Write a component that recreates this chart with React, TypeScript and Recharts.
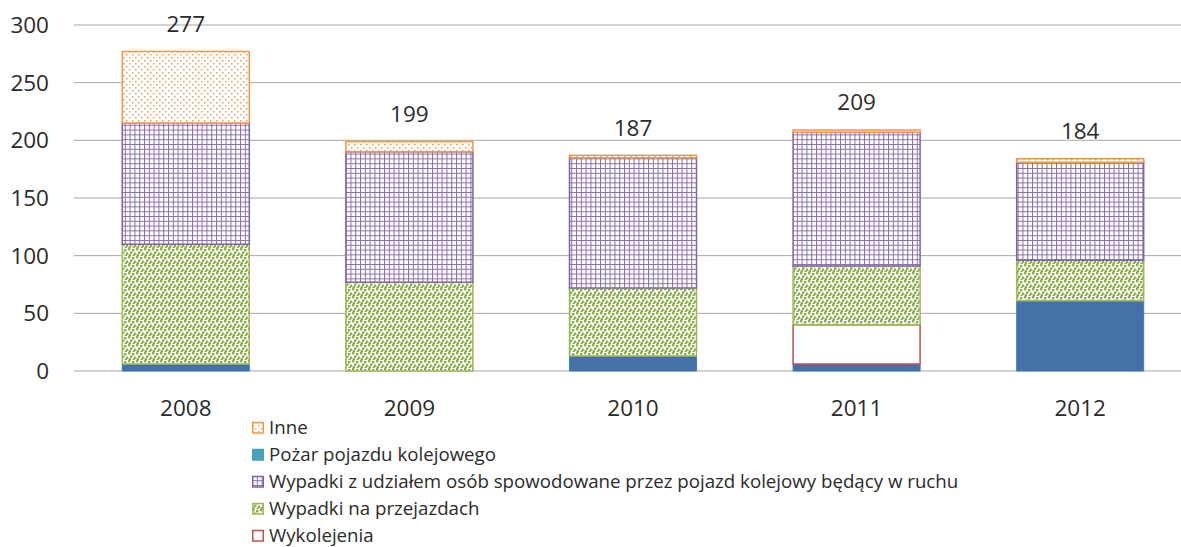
import React from 'react';
import { BarChart, Bar, XAxis, YAxis, CartesianGrid, LabelList, Legend } from 'recharts';

const categories = ['2008', '2009', '2010', '2011', '2012'];
const kolizje = [6, 0, 13, 6, 61];
const wykolejenia = [0, 0, 0, 34, 0];
const przejazdy = [104, 77, 59, 51, 35];
const udzial = [105, 113, 113, 116, 85];
const pozar = [0, 0, 0, 0, 0];
const inne = [62, 9, 2, 2, 3];
const totals = [277, 199, 187, 209, 184];
const yTicks = [0, 50, 100, 150, 200, 250, 300];

const legendNames = [
  'Inne',
  'Pożar pojazdu kolejowego',
  'Wypadki z udziałem osób spowodowane przez pojazd kolejowy będący w ruchu',
  'Wypadki na przejazdach',
  'Wykolejenia',
];
const legendFills = ['url(#pDots)', '#4A9FBA', 'url(#pGrid)', 'url(#pConf)', '#ffffff'];
const legendStrokes = ['#F79646', '#4A9FBA', '#8064A2', '#9BBB59', '#C0504D'];

const data = categories.map((c, i) => ({
  year: c,
  kolizje: kolizje[i],
  wykolejenia: wykolejenia[i],
  przejazdy: przejazdy[i],
  udzial: udzial[i],
  pozar: pozar[i],
  inne: inne[i],
}));

const FONT = '"Open Sans", sans-serif';
const TXT = '#2b2b2b';

const TotalLabel = (props: any) => {
  const { x, y, width, index } = props;
  return (
    <text x={x + width / 2} y={y - 19.5} textAnchor="middle" fontSize={22.5} fontFamily={FONT} fill={TXT}>
      {totals[index]}
    </text>
  );
};

const LegendContent = () => (
  <svg width={760} height={135} style={{ display: 'block' }}>
    {legendNames.map((n, i) => {
      const base = 20.5 + i * 27;
      return (
        <g key={n}>
          <rect x={0.75} y={base - 11} width={10.5} height={10.5} fill={legendFills[i]} stroke={legendStrokes[i]} strokeWidth={1.5} />
          <text x={17} y={base} fontSize={18.7} fontFamily={FONT} fill={TXT}>{n}</text>
        </g>
      );
    })}
  </svg>
);

export default function App() {
  return (
    <div style={{ position: 'fixed', left: 0, top: 0, width: 1181, height: 547, overflow: 'hidden', background: '#fff' }}>
      <BarChart
        width={1192}
        height={547}
        data={data}
        margin={{ top: 25, right: 0, left: 0, bottom: 146 }}
        barCategoryGap="21.6%"
      >
        <defs>
          <pattern id="pDots" width="6" height="6" patternUnits="userSpaceOnUse">
            <rect width="6" height="6" fill="#fff" />
            <rect x="0" y="0" width="1.5" height="1.5" fill="#F39A55" />
            <rect x="3" y="3" width="1.5" height="1.5" fill="#F39A55" />
          </pattern>
          <pattern id="pGrid" width="4.8" height="4.8" patternUnits="userSpaceOnUse">
            <rect width="4.8" height="4.8" fill="#fff" />
            <path d="M0 0.5 H4.8 M0.5 0 V4.8" stroke="#8A70AC" strokeWidth="1.1" />
          </pattern>
          <pattern id="pConf" width="8" height="8" patternUnits="userSpaceOnUse">
            <rect width="8" height="8" fill="#fff" />
            <rect x="0" y="0" width="2.4" height="2.4" fill="#88AD45" />
            <rect x="4" y="1" width="2.4" height="2.4" fill="#88AD45" />
            <rect x="2" y="3.5" width="2.4" height="2.4" fill="#88AD45" />
            <rect x="6" y="4.5" width="2" height="2.4" fill="#88AD45" />
            <rect x="0.5" y="6" width="2.4" height="2" fill="#88AD45" />
            <rect x="4.5" y="6.5" width="2.4" height="1.5" fill="#88AD45" />
          </pattern>
        </defs>
        <CartesianGrid vertical={false} stroke="#A6A6A6" strokeWidth={1} />
        <XAxis
          dataKey="year"
          axisLine={false}
          tickLine={false}
          tickSize={0}
          tickMargin={29}
          height={30}
          tick={{ fontSize: 22.5, fontFamily: FONT, fill: TXT }}
        />
        <YAxis
          width={74}
          domain={[0, 300]}
          ticks={yTicks}
          axisLine={false}
          tickLine={false}
          tickSize={0}
          tickMargin={25}
          interval={0}
          tick={{ fontSize: 22.5, fontFamily: FONT, fill: TXT }}
        />
        <Legend
          layout="vertical"
          align="center"
          verticalAlign="middle"
          content={<LegendContent />}
          wrapperStyle={{ position: 'absolute', left: 252, top: 413, width: 760, height: 135 }}
        />
        <Bar dataKey="kolizje" name="Kolizje" stackId="a" fill="#4471A6" stroke="#3F79C4" strokeWidth={1} legendType="none" isAnimationActive={false} />
        <Bar dataKey="wykolejenia" name="Wykolejenia" stackId="a" fill="#ffffff" stroke="#C0504D" strokeWidth={1.5} isAnimationActive={false} />
        <Bar dataKey="przejazdy" name="Wypadki na przejazdach" stackId="a" fill="url(#pConf)" stroke="#9BBB59" strokeWidth={1.5} isAnimationActive={false} />
        <Bar dataKey="udzial" name="Wypadki z udziałem osób spowodowane przez pojazd kolejowy będący w ruchu" stackId="a" fill="url(#pGrid)" stroke="#8064A2" strokeWidth={1.5} isAnimationActive={false} />
        <Bar dataKey="pozar" name="Pożar pojazdu kolejowego" stackId="a" fill="#4A9FBA" isAnimationActive={false} />
        <Bar dataKey="inne" name="Inne" stackId="a" fill="url(#pDots)" stroke="#F79646" strokeWidth={1.5} isAnimationActive={false}>
          <LabelList dataKey="inne" content={<TotalLabel />} />
        </Bar>
      </BarChart>
    </div>
  );
}
